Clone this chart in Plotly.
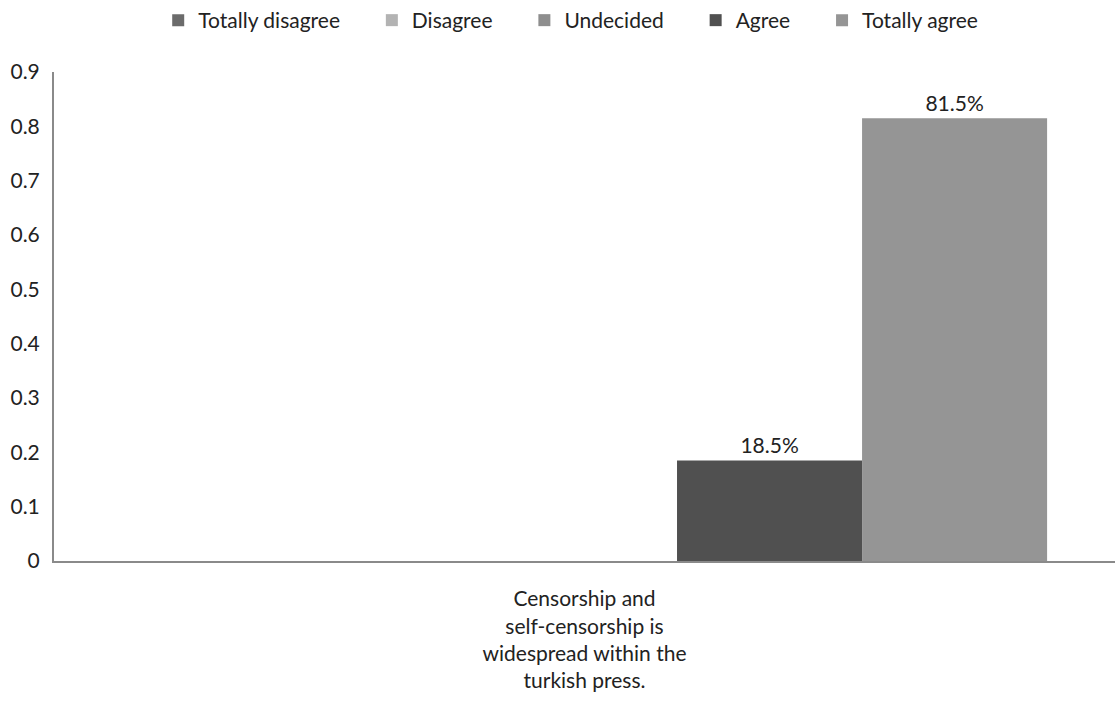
import plotly.graph_objects as go

categories = ["Censorship and<br>self-censorship is<br>widespread within the<br>turkish press."]
series_names = ["Totally disagree", "Disagree", "Undecided", "Agree", "Totally agree"]
series_values = [[0.0], [0.0], [0.0], [0.185], [0.815]]
series_labels = [[""], [""], [""], ["18.5%"], ["81.5%"]]
colors = ["#6b6b6b", "#b3b3b3", "#8e8e8e", "#505050", "#959595"]
y_ticks = [0, 0.1, 0.2, 0.3, 0.4, 0.5, 0.6, 0.7, 0.8, 0.9]

FONT = "Lato, 'Open Sans', sans-serif"
pad = "\u00a0" * 5

fig = go.Figure()
for i, (name, vals, labs, col) in enumerate(zip(series_names, series_values, series_labels, colors)):
    fig.add_trace(go.Bar(
        x=categories, y=vals, name=name + (pad if i < len(series_names) - 1 else ""),
        marker=dict(color=col, line=dict(width=0)),
        text=labs, textposition="outside", cliponaxis=False,
        textfont=dict(size=21, color="#222222", family=FONT),
    ))

fig.update_layout(
    barmode="group",
    bargap=0.128,
    bargroupgap=0,
    width=1115, height=710,
    margin=dict(l=54, r=0, t=72, b=149),
    paper_bgcolor="white", plot_bgcolor="white",
    font=dict(family=FONT, size=21, color="#222222"),
    legend=dict(orientation="h", x=0.487, xanchor="center", xref="paper",
                y=1.0, yanchor="top", yref="container",
                font=dict(size=21, color="#222222"), itemwidth=30,
                traceorder="normal", tracegroupgap=0),
    showlegend=True,
    uniformtext=dict(mode="show", minsize=10),
)
fig.update_yaxes(range=[0, 0.9], tickvals=y_ticks, ticktext=[f"{v:g}" for v in y_ticks],
                 showgrid=False, zeroline=False, showline=True, linecolor="#8a8a8a",
                 linewidth=2, ticks="", tickfont=dict(size=21), ticklabelstandoff=8)
fig.update_xaxes(showgrid=False, showline=True, linecolor="#8a8a8a", linewidth=2,
                 ticks="", tickfont=dict(size=21), ticklabelstandoff=18)

fig.write_html("out.html")
